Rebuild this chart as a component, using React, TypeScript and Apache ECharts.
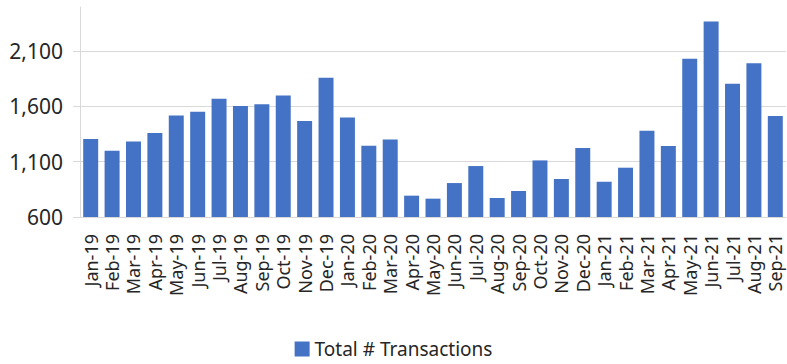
import React, { useEffect, useRef } from "react";
import * as echarts from "echarts";

const months = [
  "Jan-19", "Feb-19", "Mar-19", "Apr-19", "May-19", "Jun-19", "Jul-19", "Aug-19", "Sep-19", "Oct-19", "Nov-19", "Dec-19",
  "Jan-20", "Feb-20", "Mar-20", "Apr-20", "May-20", "Jun-20", "Jul-20", "Aug-20", "Sep-20", "Oct-20", "Nov-20", "Dec-20",
  "Jan-21", "Feb-21", "Mar-21", "Apr-21", "May-21", "Jun-21", "Jul-21", "Aug-21", "Sep-21",
];

const transactions = [
  1305, 1200, 1284, 1359, 1519, 1552, 1670, 1604, 1619, 1700, 1468, 1860,
  1501, 1245, 1302, 793, 766, 907, 1061, 772, 835, 1112, 944, 1224,
  919, 1046, 1380, 1242, 2031, 2369, 1805, 1992, 1513,
];

const seriesName = "Total # Transactions";
const yMin = 600;
const yMax = 2500;
const yStep = 500;

export default function App() {
  const ref = useRef<HTMLDivElement>(null);
  useEffect(() => {
    if (!ref.current) return;
    const chart = echarts.init(ref.current, undefined, { renderer: "svg" });
    const font = "Noto Sans";
    chart.setOption({
      animation: false,
      textStyle: { fontFamily: font },
      grid: { left: 80, right: 1, top: 7, bottom: 147, containLabel: false },
      legend: {
        data: [seriesName],
        top: 336,
        left: "center",
        padding: 2,
        icon: "rect",
        itemWidth: 15,
        itemHeight: 15,
        itemGap: 8,
        textStyle: { fontSize: 19, color: "#262626", fontFamily: font, lineHeight: 22 },
      },
      xAxis: {
        type: "category",
        data: months,
        axisLine: { show: true, lineStyle: { color: "#d9d9d9", width: 1 } },
        axisTick: { show: false },
        axisLabel: {
          interval: 0,
          rotate: 90,
          margin: 17,
          fontSize: 18,
          color: "#262626",
          fontFamily: font,
        },
      },
      yAxis: {
        type: "value",
        min: yMin,
        max: yMax,
        interval: yStep,
        axisLine: { show: true, lineStyle: { color: "#d9d9d9", width: 1 } },
        axisTick: { show: true, length: 7, lineStyle: { color: "#d9d9d9" } },
        splitLine: {
          show: true,
          lineStyle: {
            color: ["#d9d9d9", "#d9d9d9", "#d9d9d9", "#d9d9d9", "rgba(0,0,0,0)"],
            width: 1,
          },
        },
        axisLabel: {
          showMaxLabel: false,
          margin: 17,
          fontSize: 21,
          color: "#262626",
          fontFamily: font,
          formatter: (v: number) => v.toLocaleString("en-US"),
        },
      },
      series: [
        {
          name: seriesName,
          type: "bar",
          data: transactions,
          barCategoryGap: "30%",
          itemStyle: { color: "#4472C4" },
        },
      ],
    });
    return () => chart.dispose();
  }, []);
  return (
    <div
      ref={ref}
      style={{ position: "fixed", left: 0, top: 0, width: 787, height: 364, background: "#fff" }}
    />
  );
}
